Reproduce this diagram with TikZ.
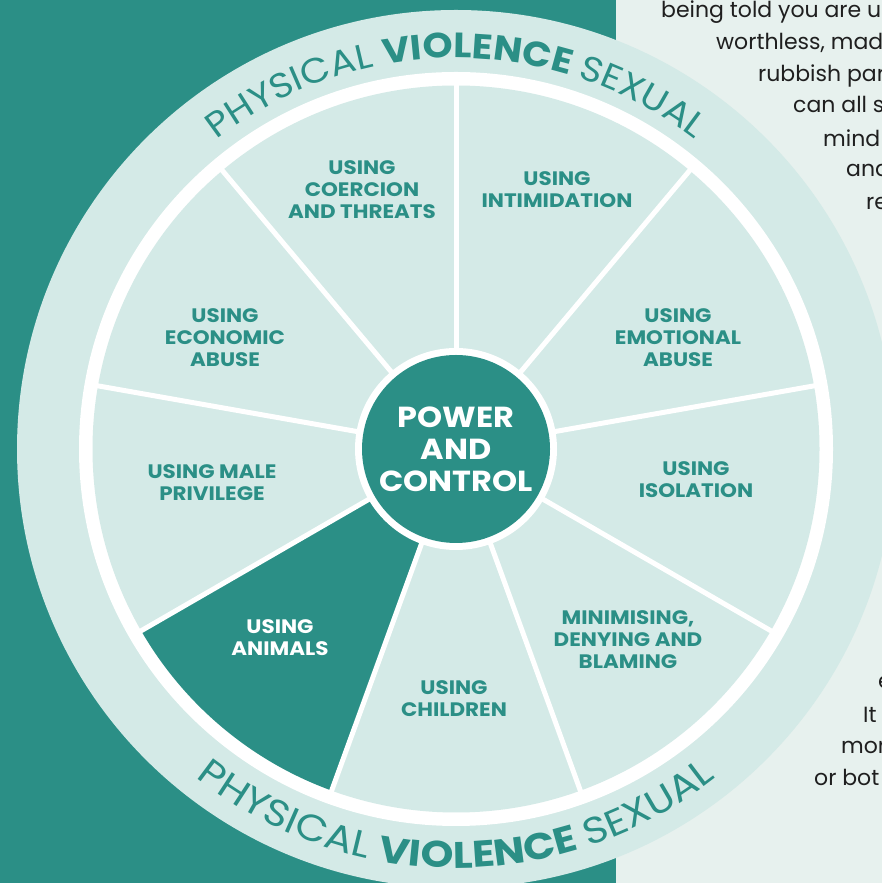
\documentclass[tikz,border=0pt]{standalone}
\usepackage{fontspec}
\setmainfont{Poppins}
\newfontfamily\widefont[FakeStretch=1.1]{Poppins}
\newfontfamily\ringfont[FakeStretch=1.095]{Poppins}
\newfontfamily\ringfontb[FakeStretch=1.13]{Poppins}
\usetikzlibrary{decorations.text}
\definecolor{tealdark}{HTML}{2B8F86}
\definecolor{pale}{HTML}{D4EAE7}
\definecolor{paper}{HTML}{E7F1EE}
\definecolor{ink}{HTML}{1F1F1F}
\newcommand{\ringlight}{\ringfont\fontsize{35}{40}\selectfont\mdseries\color{tealdark}}
\newcommand{\ringbold}{\ringfont\fontsize{35}{40}\selectfont\bfseries\color{tealdark}}
\newcommand{\ringlightb}{\ringfontb\fontsize{37}{40}\selectfont\mdseries\color{tealdark}}
\newcommand{\ringboldb}{\ringfontb\fontsize{37}{40}\selectfont\bfseries\color{tealdark}}
\begin{document}
\begin{tikzpicture}[x=1pt,y=1pt,
  lbl/.style={font=\widefont\bfseries\fontsize{19.5}{22}\selectfont, text=tealdark, align=center, inner sep=0pt},
  lblw/.style={lbl, text=white},
  core/.style={circle, fill=tealdark, minimum size=188pt, inner sep=0pt, align=center,
     font=\widefont\bfseries\fontsize{29}{32}\selectfont, text=white},
  para/.style={anchor=base west, inner sep=0pt, font=\fontsize{22}{31}\selectfont, text=ink},
  divider/.style={white, line width=5pt}]
\useasboundingbox (0,0) rectangle (882,883);
\clip (0,0) rectangle (882,883);
\fill[paper] (0,0) rectangle (882,883);
\fill[tealdark] (0,0) rectangle (616,883);
\coordinate (C) at (456,434);
% wheel rings
\fill[pale] (C) circle (439);
\fill[white] (C) circle (377);
\fill[pale] (C) circle (363.5);
% highlighted sector
\fill[tealdark] (C) -- ([shift={(C)}]210:363.5) arc[start angle=210, end angle=250, radius=363.5] -- cycle;
% dividers
\foreach \a in {10,50,...,330} \draw[divider] (C) -- ++(\a:365);
% centre
\fill[white] (C) circle (101);
\node[core] (hub) at (C) {POWER\\AND\\CONTROL};
% ring text
\path[decorate, decoration={text along path, text align=center,
  text={|\ringlight|PHYSICAL |\ringbold|VIOLENCE |\ringlight|SEXUAL}}]
  ([shift={(C)}]170:391) arc[start angle=170, end angle=10, radius=391];
\path[decorate, decoration={text along path, text align=center,
  text={|\ringlightb|PHYSICAL |\ringboldb|VIOLENCE |\ringlightb|SEXUAL}}]
  ([shift={(C)}]190:419) arc[start angle=190, end angle=350, radius=419];
% segment labels
\node[lbl] (coercion) at (362,693) {USING\\COERCION\\AND THREATS};
\node[lbl] (intim) at (557,693) {USING\\INTIMIDATION};
\node[lbl] (econ) at (225,545) {USING\\ECONOMIC\\ABUSE};
\node[lbl] (emot) at (678,545) {USING\\EMOTIONAL\\ABUSE};
\node[lbl] (male) at (212,400) {USING MALE\\PRIVILEGE};
\node[lbl] (isol) at (696,403) {USING\\ISOLATION};
\node[lblw] (animals) at (280,245) {USING\\ANIMALS};
\node[lbl] (children) at (454,184) {USING\\CHILDREN};
\node[lbl] (minim) at (628,243) {MINIMISING,\\DENYING AND\\BLAMING};
% side paragraph (cut off at the edge)
\node[para] (p1) at (661,865) {being told you are us};
\node[para] (p2) at (716,833) {worthless, mad};
\node[para] (p3) at (758,801) {rubbish par};
\node[para] (p4) at (793,770) {can all s};
\node[para] (p5) at (823,736) {mind};
\node[para] (p6) at (846,706) {and};
\node[para] (p7) at (866,673) {re};
\node[para] (p8) at (878,194) {e};
\node[para] (p9) at (863,160) {It};
\node[para] (p10) at (841,129) {mor};
\node[para] (p11) at (814,97) {or bot};
\end{tikzpicture}
\end{document}
